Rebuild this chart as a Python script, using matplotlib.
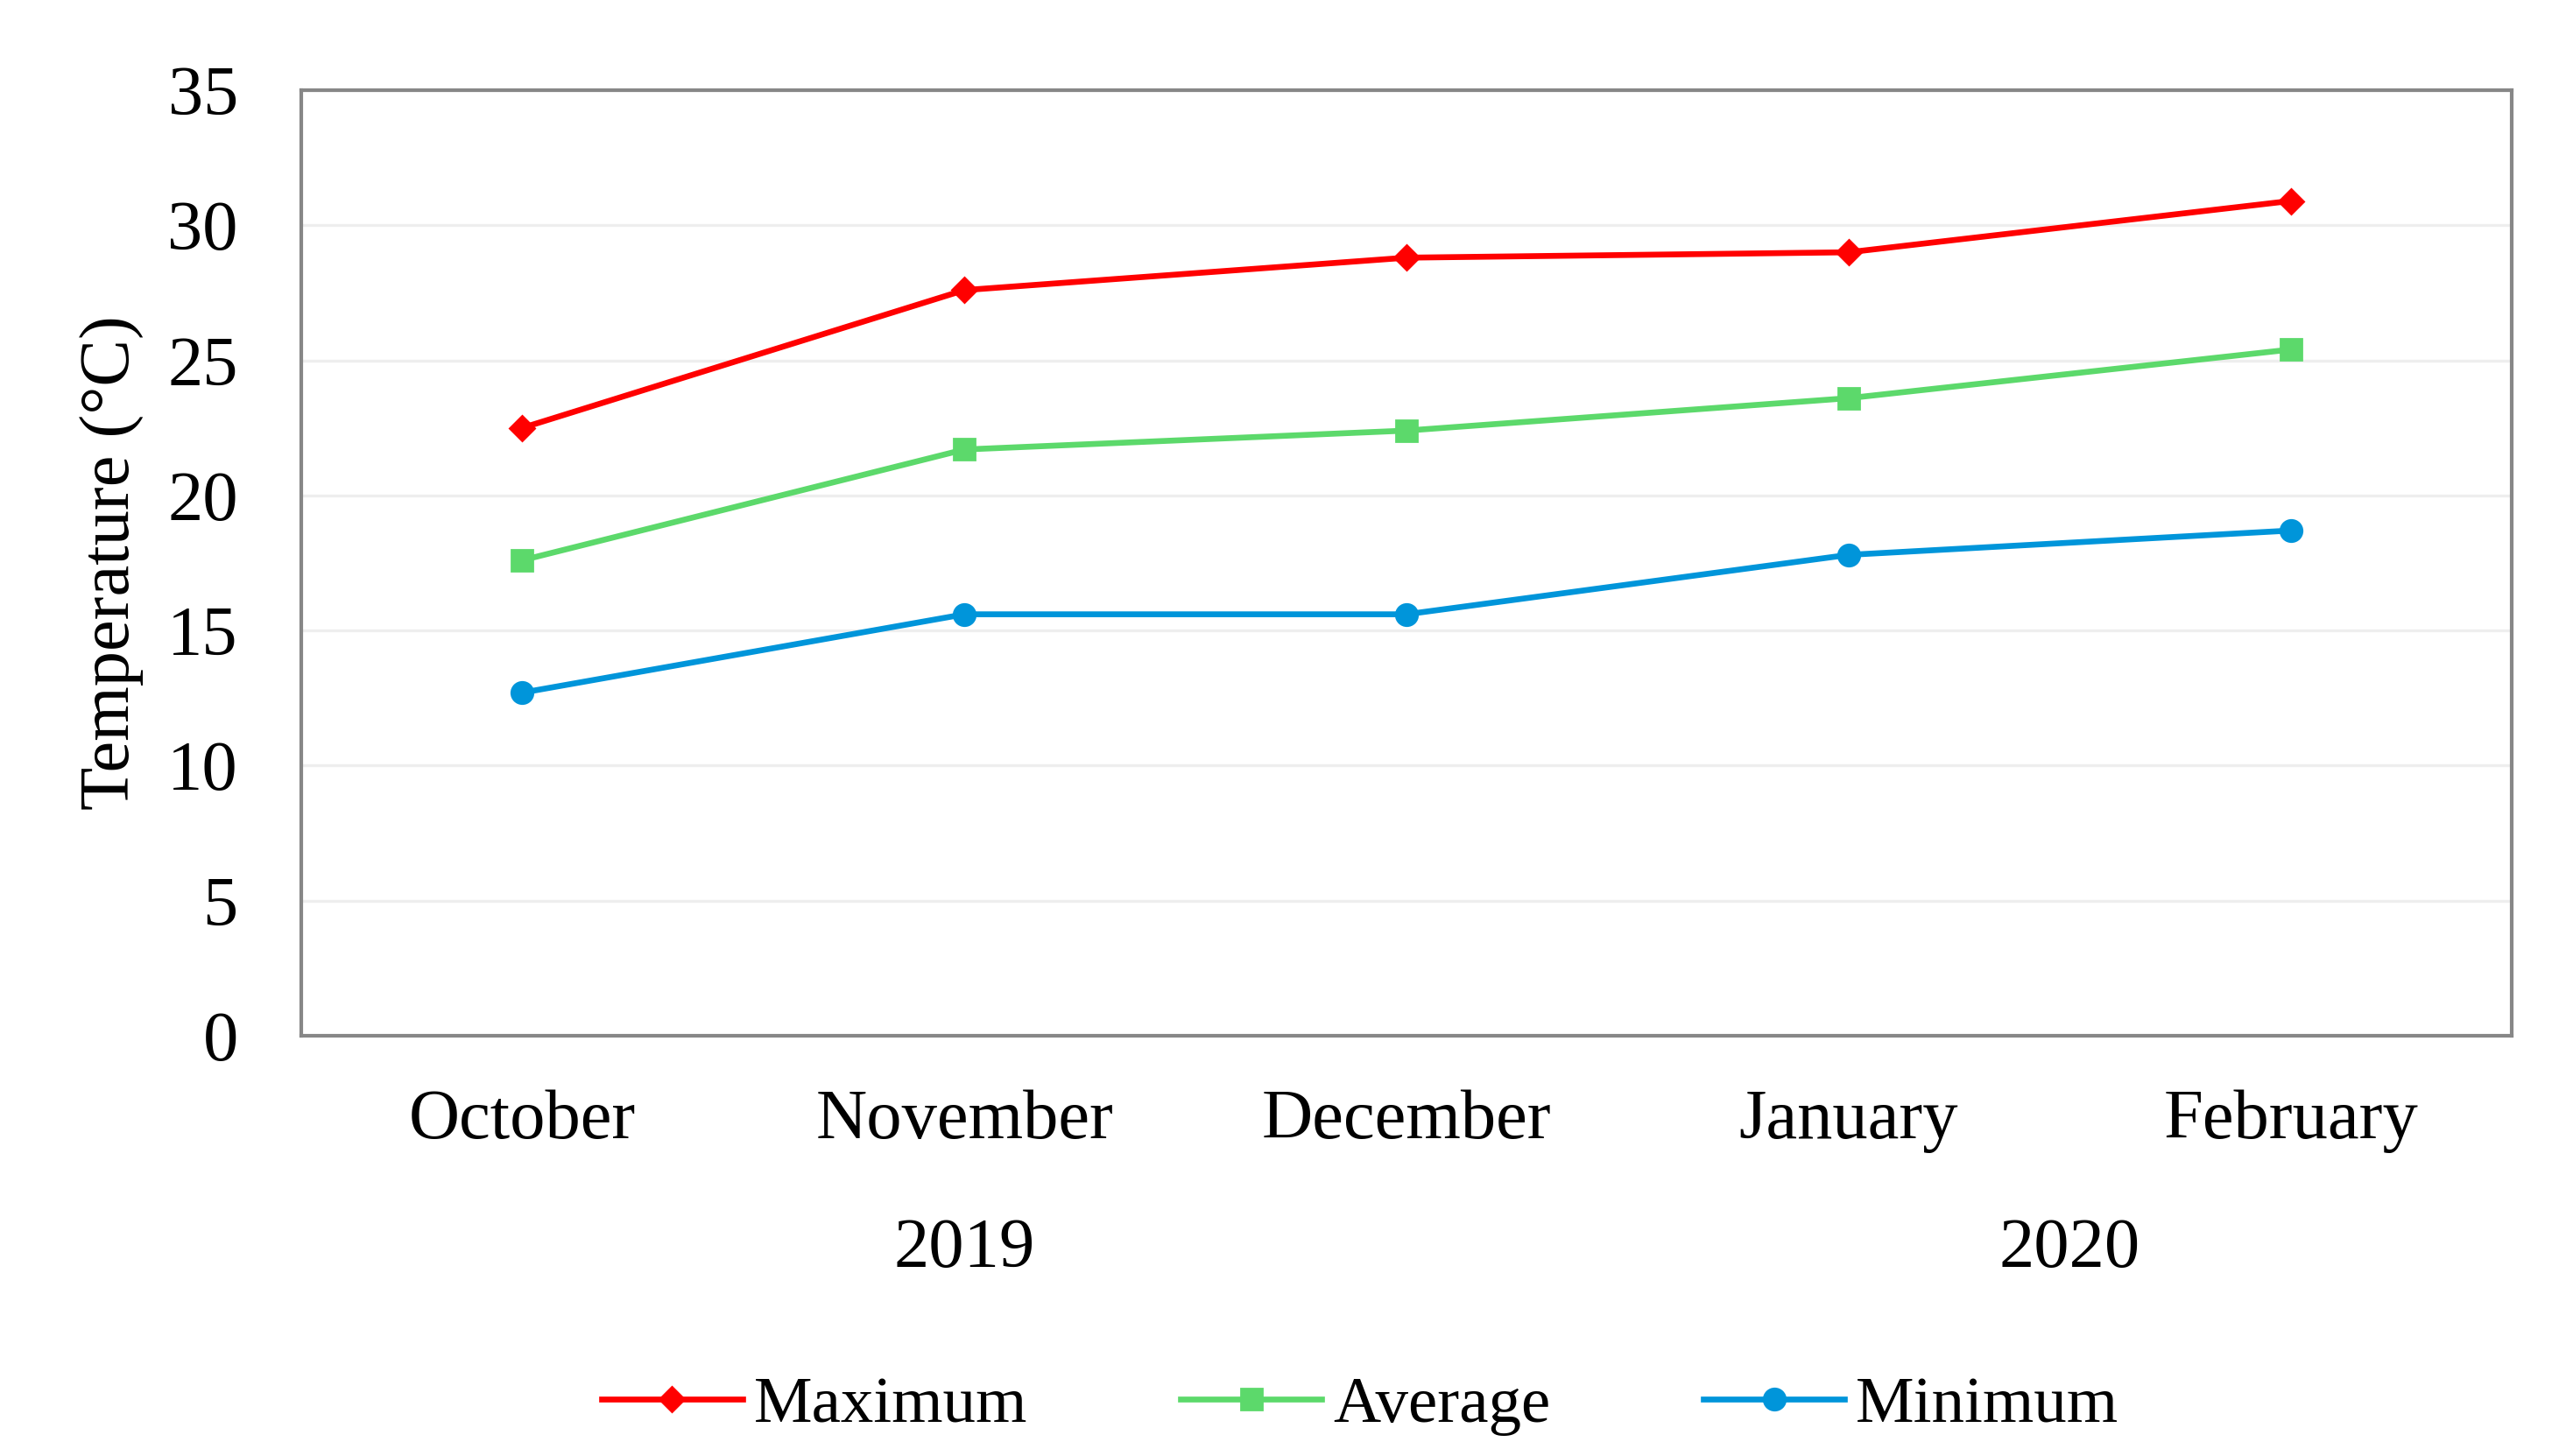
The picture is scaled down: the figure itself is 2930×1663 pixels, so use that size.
import matplotlib
matplotlib.use("Agg")
import matplotlib.pyplot as plt
from matplotlib.transforms import blended_transform_factory

months = ["October", "November", "December", "January", "February"]
years = ["2019", "2020"]
year_pos = [1.0, 3.5]
maximum = [22.5, 27.6, 28.8, 29.0, 30.9]
average = [17.6, 21.7, 22.4, 23.6, 25.4]
minimum = [12.7, 15.6, 15.6, 17.8, 18.7]
yticks = [0, 5, 10, 15, 20, 25, 30, 35]

plt.rcParams['font.family'] = ['Liberation Serif', 'DejaVu Serif']

W, H, DPI = 2930, 1663, 200
fig = plt.figure(figsize=(W / DPI, H / DPI), dpi=DPI)
ax = fig.add_axes([344 / W, 1 - 1183 / H, (2868 - 344) / W, (1183 - 103) / H])

x = list(range(len(months)))
ax.plot(x, maximum, color="#FF0000", lw=2.4, marker="D", ms=7.0, label="Maximum", zorder=3)
ax.plot(x, average, color="#5CD96B", lw=2.4, marker="s", ms=8.8, label="Average", zorder=3)
ax.plot(x, minimum, color="#0095DA", lw=2.4, marker="o", ms=8.8, label="Minimum", zorder=3)

ax.set_xlim(-0.5, len(months) - 0.5)
ax.set_ylim(0, 35)
ax.set_yticks(yticks)
ax.set_yticklabels([str(v) for v in yticks], fontsize=29)
ax.set_xticks(x)
ax.set_xticklabels(months, fontsize=29)
ax.tick_params(axis="both", length=0)
ax.tick_params(axis="y", pad=26)
ax.tick_params(axis="x", pad=22)
ax.grid(axis="y", color="#EEEEEE", lw=1.2, zorder=0)
ax.set_axisbelow(True)
for s in ax.spines.values():
    s.set_color("#878787")
    s.set_linewidth(1.5)

ax.set_ylabel("Temperature (°C)", fontsize=29)
ax.yaxis.set_label_coords((128 - 344) / (2868 - 344), 0.5)
ax.yaxis.label.set_va("center")

tr = blended_transform_factory(ax.transData, fig.transFigure)
for yr, xp in zip(years, year_pos):
    ax.text(xp, 1 - 1427 / H, yr, transform=tr, ha="center", va="center", fontsize=29)

fig.legend(loc="center", bbox_to_anchor=(0.53, 1 - 1606 / H), ncol=3, frameon=False,
           fontsize=27, handlelength=2.15, handletextpad=0.17, columnspacing=2.33)

fig.savefig("out.png", dpi=DPI, facecolor="white")
